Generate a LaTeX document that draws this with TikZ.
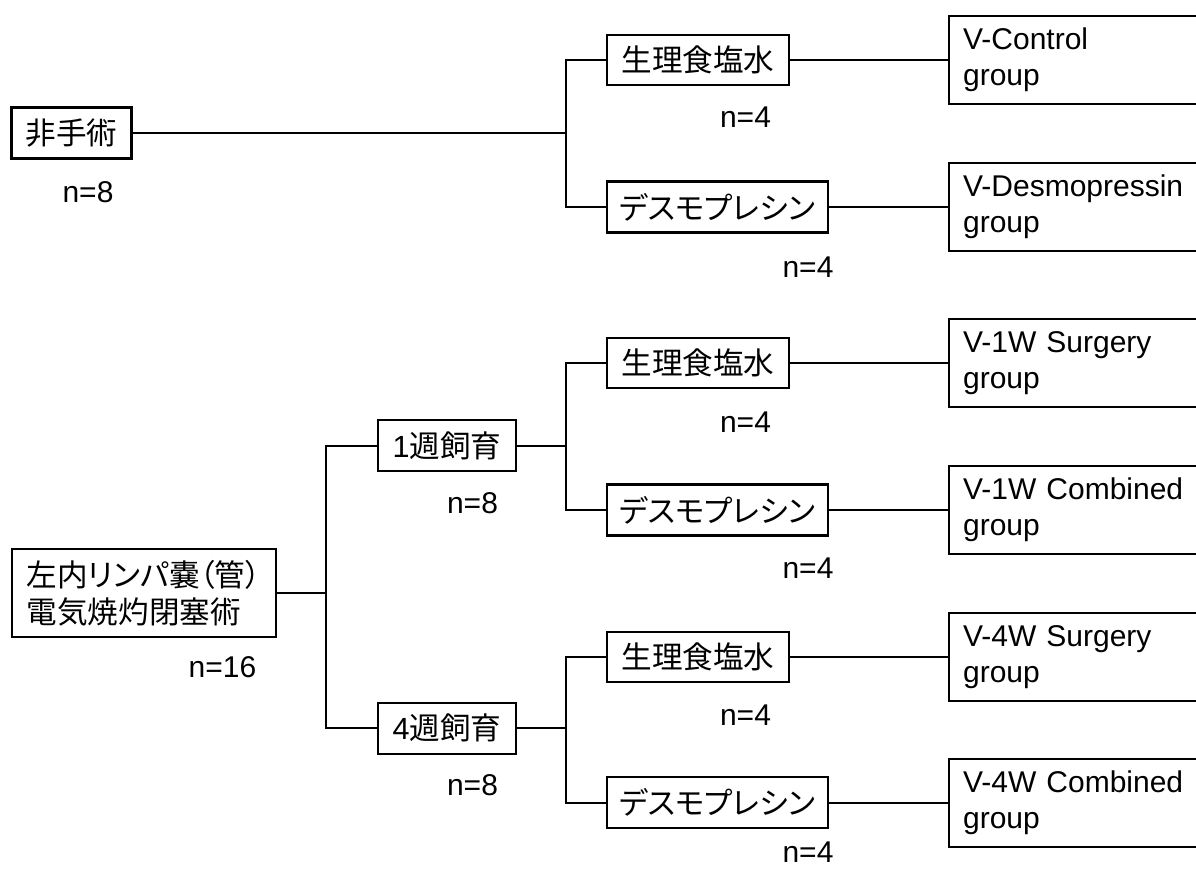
\documentclass[tikz,border=0pt]{standalone}
\usepackage{fontspec}
\setmainfont{Liberation Sans}
\newfontfamily\jp[RawFeature=+palt]{Noto Sans CJK JP}
\begin{document}
\begin{tikzpicture}[x=1pt,y=-1pt,
  box/.style={draw, line width=2.2pt, inner sep=0pt, align=left,
    font=\jp\fontsize{30.6}{37}\selectfont},
  grp/.style={draw, line width=2.2pt, anchor=west, text width=300pt, align=left,
    inner xsep=14pt, inner ysep=0pt, minimum height=88pt,
    font=\fontsize{30}{36}\selectfont},
  lab/.style={inner sep=0pt, font=\fontsize{30}{36}\selectfont},
  conn/.style={line width=2.2pt}]
\useasboundingbox (0,0) rectangle (1196,870);
% upper tree
\node[box, minimum width=120pt, minimum height=51pt] (hi) at (71.4,133) {非手術};
\node[lab] (nh) at (88,191.7) {n=8};
\node[box, minimum width=182.6pt, minimum height=50pt] (s1) at (698,60) {生理食塩水};
\node[box, minimum width=221.3pt, minimum height=51pt] (d1) at (717.3,207) {デスモプレシン};
\node[lab] (ns1) at (745.5,117.5) {n=4};
\node[lab] (nd1) at (808,267) {n=4};
\node[grp] (g1) at (948,60) {V-Control\\group};
\node[grp] (g2) at (948,207) {V-Desmopressin\\group};
\draw[conn] (hi.east) -- ([xshift=-40pt]s1.west |- hi.east);
\draw[conn] (s1.west) -- ++(-40,0) |- (d1.west);
\draw[conn] (s1.east) -- (g1.west);
\draw[conn] (d1.east) -- (g2.west);
% lower tree
\node[box, minimum width=264.3pt, minimum height=88.3pt] (lp) at (143.8,593) {左内リンパ嚢（管）\\電気焼灼閉塞術};
\node[lab] (nlp) at (222.5,667.5) {n=16};
\node[box, minimum width=137.4pt, minimum height=51pt] (w1) at (447,445.7) {{\rmfamily 1}週飼育};
\node[box, minimum width=137.4pt, minimum height=51pt] (w4) at (447,728.3) {{\rmfamily 4}週飼育};
\node[lab] (nw1) at (472.5,503) {n=8};
\node[lab] (nw4) at (472.5,785.6) {n=8};
\node[box, minimum width=182.6pt, minimum height=50pt] (s2) at (698,362.7) {生理食塩水};
\node[box, minimum width=221.3pt, minimum height=51pt] (d2) at (717.3,510) {デスモプレシン};
\node[box, minimum width=182.6pt, minimum height=50pt] (s3) at (698,657.3) {生理食塩水};
\node[box, minimum width=221.3pt, minimum height=51pt] (d3) at (717.3,802.7) {デスモプレシン};
\node[lab] (ns2) at (745.5,421.7) {n=4};
\node[lab] (nd2) at (808,568) {n=4};
\node[lab] (ns3) at (745.5,715.5) {n=4};
\node[lab] (nd3) at (808,852) {n=4};
\node[grp] (g3) at (948,362.7) {V-1W Surgery\\group};
\node[grp] (g4) at (948,510) {V-1W Combined\\group};
\node[grp] (g5) at (948,657.3) {V-4W Surgery\\group};
\node[grp] (g6) at (948,802.7) {V-4W Combined\\group};
\draw[conn] (lp.east) -- ([xshift=-51.6pt]w1.west |- lp.east);
\draw[conn] (w1.west) -- ++(-51.6,0) |- (w4.west);
\draw[conn] (w1.east) -- ([xshift=-40pt]s2.west |- w1.east);
\draw[conn] (s2.west) -- ++(-40,0) |- (d2.west);
\draw[conn] (w4.east) -- ([xshift=-40pt]s3.west |- w4.east);
\draw[conn] (s3.west) -- ++(-40,0) |- (d3.west);
\draw[conn] (s2.east) -- (g3.west);
\draw[conn] (d2.east) -- (g4.west);
\draw[conn] (s3.east) -- (g5.west);
\draw[conn] (d3.east) -- (g6.west);
\end{tikzpicture}
\end{document}
